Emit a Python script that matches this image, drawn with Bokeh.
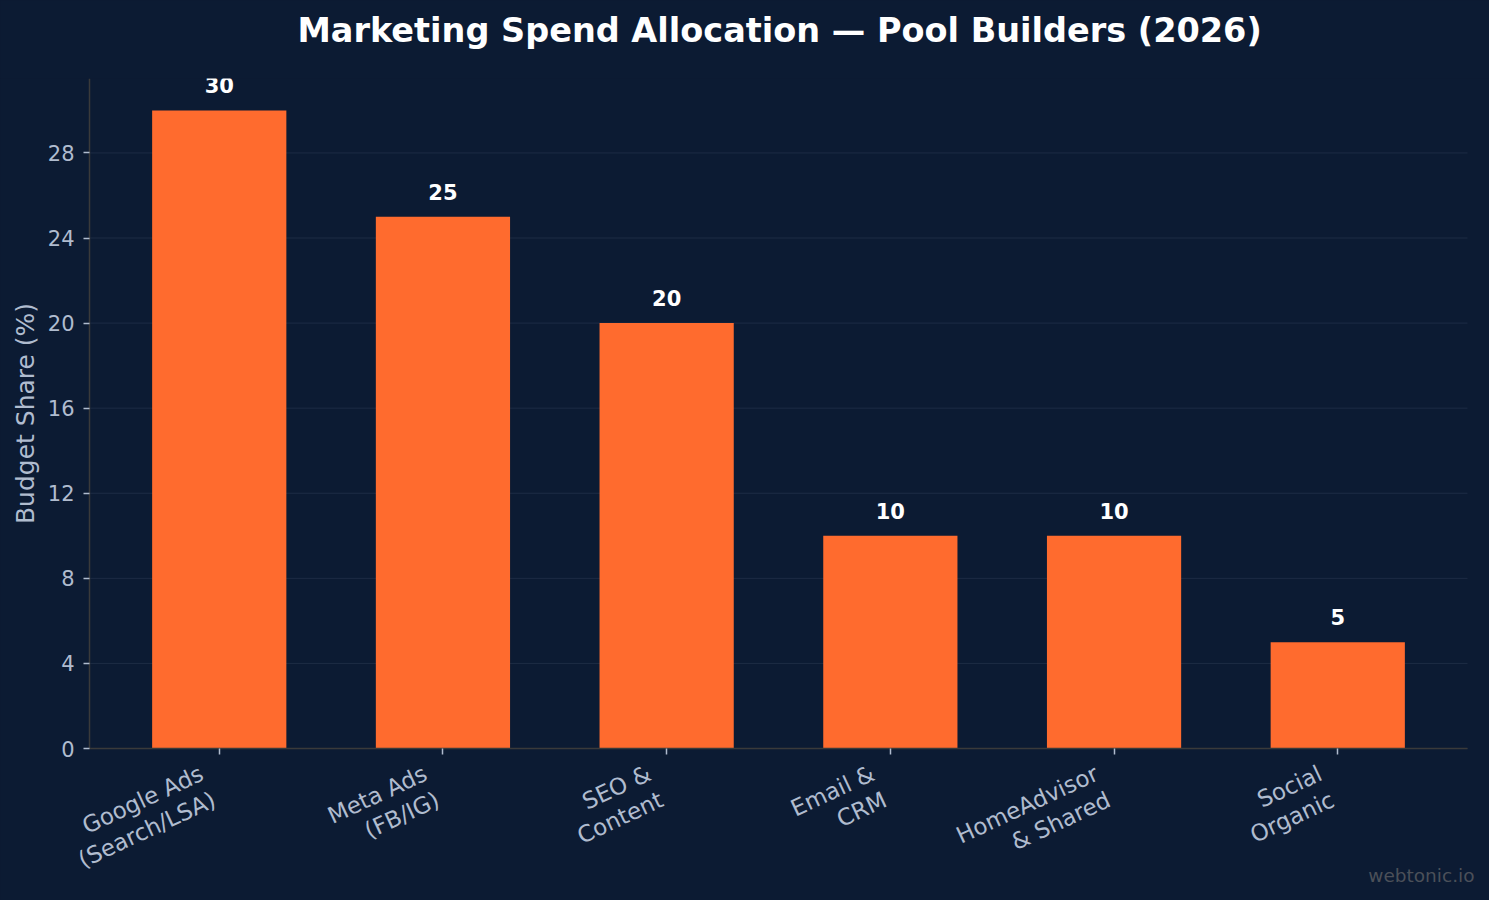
import math
from bokeh.plotting import figure
from bokeh.models import ColumnDataSource, Range1d, FixedTicker, Title, LinearAxis
from bokeh.core.properties import value
from bokeh.embed import file_html
from bokeh.resources import INLINE

categories = ["Google Ads\n(Search/LSA)", "Meta Ads\n(FB/IG)", "SEO &\nContent",
              "Email &\nCRM", "HomeAdvisor\n& Shared", "Social\nOrganic"]
shares = [30, 25, 20, 10, 10, 5]
y_ticks = [0, 4, 8, 12, 16, 20, 24, 28]

BG = "#0c1b33"
BAR = "#ff6b2e"
TXT = "#b0bccf"
SPINE = "#3a3a3a"
FONT = "DejaVu Sans"

# layout (pixels): plotting area spans x 89..1467, y 78..748 of a 1489x900 canvas
W, H = 1489, 900
LEFT, RIGHT, TOP, AXIS_Y = 89, 22, 78, 748

xs = list(range(len(categories)))
src = ColumnDataSource(dict(x=xs, top=shares, lbl=[str(v) for v in shares]))

X0, X1 = -0.58, len(categories) - 1 + 0.58
Y1 = max(shares) * 1.05
ppu = (W - LEFT - RIGHT) / (X1 - X0)
ppy = (AXIS_Y - TOP) / Y1

p = figure(width=W, height=H, output_backend="svg", toolbar_location=None, title=None,
           x_axis_location=None, y_axis_location=None,
           x_range=Range1d(X0 - LEFT / ppu, X1 + RIGHT / ppu),
           y_range=Range1d(-(H - AXIS_Y) / ppy, Y1),
           background_fill_color=BG, border_fill_color=BG,
           min_border_left=0, min_border_right=0, min_border_top=TOP, min_border_bottom=0)
p.outline_line_color = None
p.grid.grid_line_color = None

# spacer (nearest the frame) then the real title above it (centred over the plotting area)
p.add_layout(Title(text=" ", text_font_size="1px", standoff=26, text_color=BG), "above")
p.add_layout(Title(text="Marketing Spend Allocation — Pool Builders (2026)", align="left",
                   offset=297, text_color="#ffffff", text_font=FONT, text_font_size="33.5px",
                   text_font_style="bold", standoff=0), "above")

# horizontal grid lines (behind the bars), limited to the plotting area
p.segment(x0=[X0] * len(y_ticks), x1=[X1] * len(y_ticks), y0=y_ticks, y1=y_ticks,
          line_color="#1d2c45", line_width=1, level="underlay")

p.vbar(x="x", top="top", width=0.6, source=src, fill_color=BAR, line_color=None)
p.text(x="x", y="top", text="lbl", source=src, text_align="center", text_baseline="alphabetic",
       y_offset=-25, text_color="#ffffff", text_font=value(FONT), text_font_size="21px",
       text_font_style="bold")

def style(ax):
    ax.axis_line_color = SPINE
    ax.axis_line_width = 1.5
    ax.major_tick_line_color = TXT
    ax.major_tick_line_width = 1.5
    ax.major_tick_out = 6
    ax.major_tick_in = 0
    ax.minor_tick_line_color = None
    ax.major_label_text_color = TXT
    ax.major_label_text_font = FONT

xax = LinearAxis(fixed_location=0, bounds=(X0, X1), ticker=FixedTicker(ticks=xs),
                 major_label_overrides={i: "" for i in xs}, major_label_standoff=0,
                 major_label_text_font_size="0px")
style(xax)
p.add_layout(xax, "below")

yax = LinearAxis(fixed_location=X0, bounds=(0, Y1), ticker=FixedTicker(ticks=y_ticks),
                 major_label_text_font_size="21px", major_label_standoff=9,
                 axis_label="Budget Share (%)", axis_label_text_font=FONT,
                 axis_label_text_font_size="25px", axis_label_text_font_style="normal",
                 axis_label_text_color=TXT, axis_label_standoff=5)
style(yax)
p.add_layout(yax, "left")

# rotated two-line category labels, right-aligned, matplotlib-like anchoring
ang = math.radians(25)
L = 29
for k in range(2):
    lines = [c.split("\n")[k] for c in categories]
    p.text(x=xs, y=[0] * len(xs), text=lines,
           x_offset=-17.4 + k * L * math.sin(ang), y_offset=23.5 + k * L * math.cos(ang),
           angle=ang, text_align="right", text_baseline="alphabetic", text_color=TXT,
           text_font=value(FONT), text_font_size="23px")

p.text(x=[X1 + RIGHT / ppu], y=[0], text=["webtonic.io"], x_offset=-15, y_offset=127,
       text_align="right", text_baseline="alphabetic", text_color="#4b5059",
       text_font=value(FONT), text_font_size="18.5px")

html = file_html(p, INLINE)
html = html.replace("<head>", "<head><style>html,body{margin:0;background:%s;}</style>" % BG, 1)
open("out.html", "w").write(html)
